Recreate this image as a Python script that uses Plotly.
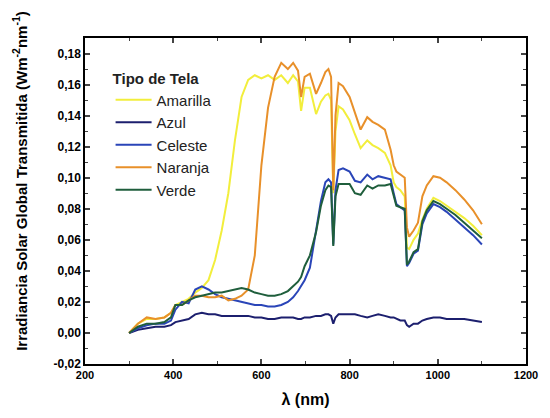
import plotly.graph_objects as go

wavelength = [300, 320, 340, 360, 380, 395, 405, 420, 435, 450, 465, 480, 495, 510, 525, 540, 555, 570, 585,
              600, 615, 630, 645, 660, 672, 683, 690, 698, 710, 724, 735, 745, 752, 758, 763, 768, 775, 785,
              800, 812, 825, 840, 852, 865, 880, 893, 900, 906, 915, 925, 930, 935, 945, 955, 965, 975, 990,
              1005, 1020, 1040, 1060, 1080, 1100]

amarilla = [0.000, 0.006, 0.009, 0.009, 0.010, 0.013, 0.018, 0.020, 0.022, 0.026, 0.029, 0.034, 0.047, 0.066,
            0.090, 0.124, 0.152, 0.163, 0.166, 0.164, 0.166, 0.163, 0.166, 0.161, 0.166, 0.162, 0.143, 0.158,
            0.158, 0.141, 0.149, 0.153, 0.154, 0.150, 0.090, 0.130, 0.146, 0.144, 0.137, 0.128, 0.119, 0.124,
            0.121, 0.119, 0.116, 0.108, 0.097, 0.094, 0.092, 0.088, 0.055, 0.054, 0.060, 0.064, 0.073, 0.080,
            0.087, 0.085, 0.082, 0.078, 0.074, 0.069, 0.063]

azul = [0.000, 0.002, 0.003, 0.004, 0.004, 0.005, 0.007, 0.008, 0.009, 0.012, 0.013, 0.012, 0.012, 0.011,
        0.011, 0.011, 0.011, 0.011, 0.010, 0.010, 0.009, 0.009, 0.010, 0.010, 0.010, 0.009, 0.009, 0.010,
        0.010, 0.011, 0.011, 0.012, 0.012, 0.011, 0.006, 0.010, 0.012, 0.012, 0.012, 0.012, 0.011, 0.010,
        0.011, 0.012, 0.011, 0.010, 0.010, 0.009, 0.008, 0.008, 0.005, 0.004, 0.006, 0.006, 0.008, 0.009,
        0.010, 0.010, 0.009, 0.009, 0.009, 0.008, 0.007]

celeste = [0.000, 0.003, 0.005, 0.006, 0.006, 0.008, 0.015, 0.020, 0.019, 0.028, 0.030, 0.028, 0.025, 0.023,
           0.022, 0.021, 0.020, 0.019, 0.018, 0.018, 0.017, 0.017, 0.018, 0.020, 0.023, 0.027, 0.030, 0.034,
           0.042, 0.065, 0.085, 0.097, 0.099, 0.097, 0.057, 0.092, 0.105, 0.106, 0.104, 0.098, 0.097, 0.102,
           0.099, 0.101, 0.100, 0.099, 0.090, 0.083, 0.081, 0.079, 0.043, 0.045, 0.051, 0.053, 0.070, 0.077,
           0.083, 0.081, 0.078, 0.073, 0.068, 0.063, 0.057]

naranja = [0.000, 0.006, 0.010, 0.009, 0.010, 0.013, 0.018, 0.018, 0.021, 0.024, 0.024, 0.023, 0.023, 0.024,
           0.021, 0.022, 0.024, 0.028, 0.050, 0.108, 0.145, 0.165, 0.174, 0.170, 0.174, 0.169, 0.152, 0.165,
           0.167, 0.154, 0.161, 0.168, 0.170, 0.165, 0.092, 0.140, 0.161, 0.159, 0.152, 0.142, 0.131, 0.139,
           0.136, 0.134, 0.131, 0.118, 0.108, 0.104, 0.102, 0.100, 0.068, 0.062, 0.066, 0.071, 0.088, 0.095,
           0.101, 0.100, 0.097, 0.092, 0.086, 0.079, 0.070]

verde = [0.000, 0.004, 0.006, 0.006, 0.007, 0.010, 0.018, 0.018, 0.021, 0.023, 0.024, 0.025, 0.026, 0.026,
         0.027, 0.028, 0.029, 0.028, 0.026, 0.025, 0.024, 0.024, 0.025, 0.027, 0.030, 0.033, 0.036, 0.043,
         0.050, 0.065, 0.082, 0.092, 0.095, 0.094, 0.056, 0.088, 0.096, 0.096, 0.096, 0.090, 0.089, 0.095,
         0.093, 0.095, 0.095, 0.096, 0.089, 0.082, 0.081, 0.080, 0.044, 0.046, 0.052, 0.054, 0.072, 0.079,
         0.085, 0.083, 0.080, 0.076, 0.071, 0.066, 0.061]

series_names = ["Amarilla", "Azul", "Celeste", "Naranja", "Verde"]
series_values = [amarilla, azul, celeste, naranja, verde]
series_colors = ["#f2ee3c", "#1c1f6e", "#2a45b8", "#e8902a", "#1f5e3c"]

y_tickvals = [-0.02, 0.00, 0.02, 0.04, 0.06, 0.08, 0.10, 0.12, 0.14, 0.16, 0.18]
y_ticktext = ["-0,02", "0,00", "0,02", "0,04", "0,06", "0,08", "0,10", "0,12", "0,14", "0,16", "0,18"]
x_tickvals = [200, 400, 600, 800, 1000, 1200]

FONT = "Liberation Sans"

fig = go.Figure()
for name, vals, col in zip(series_names, series_values, series_colors):
    fig.add_trace(go.Scatter(x=wavelength, y=vals, mode="lines", name=name,
                             line=dict(color=col, width=2)))

fig.update_layout(
    width=550, height=418,
    margin=dict(l=85, r=13, t=38, b=50),
    paper_bgcolor="white", plot_bgcolor="white",
    font=dict(family=FONT, color="black"),
    showlegend=True,
    legend=dict(
        title=dict(text="<b>Tipo de Tela</b>", font=dict(family=FONT, size=15, color="#222")),
        font=dict(family=FONT, size=15, color="#222"),
        x=0.058, y=0.92, xanchor="left", yanchor="top",
        bgcolor="rgba(0,0,0,0)", itemwidth=36,
    ),
    xaxis=dict(
        range=[200, 1200], tickvals=x_tickvals, ticks="inside", ticklen=5, tickwidth=1.5,
        showline=True, linecolor="black", linewidth=1.5, mirror="ticks", showgrid=False, zeroline=False,
        tickfont=dict(family=FONT, size=11, weight="bold"),
        minor=dict(dtick=100, ticks="inside", ticklen=3, tickwidth=1.2, showgrid=False),
        title=dict(text="<b>λ (nm)</b>", font=dict(family=FONT, size=16), standoff=14),
    ),
    yaxis=dict(
        range=[-0.02, 0.19], tickvals=y_tickvals, ticktext=y_ticktext, ticks="inside", ticklen=5, tickwidth=1.5,
        showline=True, linecolor="black", linewidth=1.5, mirror="ticks", showgrid=False, zeroline=False,
        tickfont=dict(family=FONT, size=12, weight="bold"),
        minor=dict(dtick=0.01, tick0=0, ticks="inside", ticklen=3, tickwidth=1.2, showgrid=False),
    ),
    annotations=[dict(
        text="<b>Irradiancia Solar Global Transmitida (Wm<sup>-2</sup>nm<sup>-1</sup>)</b>",
        xref="paper", yref="paper", x=(18 - 85) / 452, y=(368 - 183) / 330,
        xanchor="center", yanchor="middle", textangle=-90, showarrow=False,
        font=dict(family=FONT, size=15, color="black"),
    )],
)

fig.write_html("out.html")
